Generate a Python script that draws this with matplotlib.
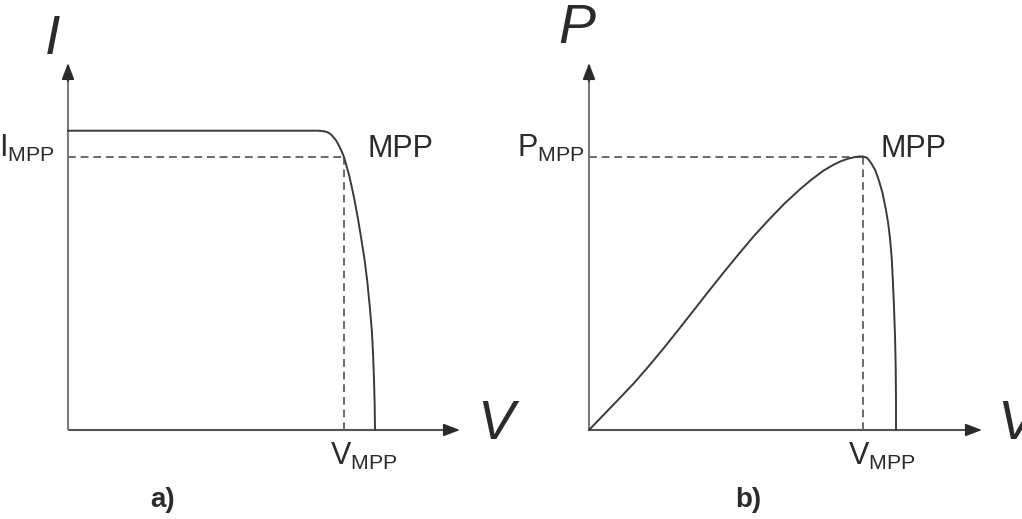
import matplotlib.pyplot as plt

plt.rcParams['font.family'] = ['Liberation Sans', 'DejaVu Sans']
plt.rcParams['mathtext.fontset'] = 'custom'
plt.rcParams['mathtext.rm'] = 'Liberation Sans'
plt.rcParams['mathtext.it'] = 'Liberation Sans:italic'

# I-V curve, V in % of Voc, I in % of Isc
iv_v = [0.0, 81.4, 82.7, 83.9, 84.9, 85.7, 86.5, 87.2, 87.9, 88.6, 89.2, 89.9,
        90.7, 91.6, 92.4, 93.2, 94.4, 95.5, 96.6, 97.5, 98.3, 99.0, 99.4,
        99.7, 99.9, 100.0]
iv_i = [100.0, 100.0, 99.9, 99.7, 99.3, 98.7, 97.8, 96.9, 95.7, 94.3, 93.0,
        91.2, 88.3, 85.0, 81.3, 77.5, 70.9, 64.1, 56.9, 49.5, 41.2, 32.8,
        24.5, 16.1, 8.1, 0.0]
v_mpp_a, i_mpp = 89.9, 91.2

# P-V curve, V in % of Voc, P in % of Pmpp
pv_v = [0.0, 4.9, 9.8, 14.7, 19.5, 24.4, 29.3, 34.2, 39.1, 44.0, 48.9, 53.7,
        58.6, 63.5, 68.4, 72.3, 76.2, 79.5, 82.1, 84.4, 86.3, 87.9, 89.3,
        90.6, 91.9, 93.2, 94.5, 95.6, 96.6, 97.4, 98.0, 98.6, 99.0, 99.4,
        99.7, 99.9, 100.0, 100.0]
pv_p = [0.0, 5.7, 11.4, 17.2, 23.4, 30.0, 36.9, 43.9, 50.9, 57.8, 64.5, 70.9,
        76.9, 82.6, 87.7, 91.4, 94.7, 96.9, 98.3, 99.2, 99.7, 100.0, 100.0,
        99.5, 97.6, 95.1, 91.0, 86.7, 81.2, 76.0, 70.5, 63.0, 54.0, 43.5,
        33.5, 23.0, 11.0, 0.0]
v_mpp_b, p_mpp = 89.3, 100.0

curve_c = '#3a3a3a'
dash_c = '#6a6a6a'
axis_c = '#7a7a7a'
head_c = '#2a2a2a'
text_c = '#2b2b2b'

W, H = 1022, 519
fig = plt.figure(figsize=(W / 100, H / 100), dpi=100)
fig.patch.set_facecolor('white')


def make_axes(x0, y0, xmax_px, ytop_px, xscale, yscale):
    ax = fig.add_axes([x0 / W, (H - y0) / H, (xmax_px - x0) / W, (y0 - ytop_px) / H])
    ax.set_xlim(0, (xmax_px - x0) / xscale)
    ax.set_ylim(0, (y0 - ytop_px) / yscale)
    ax.axis('off')
    return ax


def draw_arrows(ax):
    xmax = ax.get_xlim()[1]
    ymax = ax.get_ylim()[1]
    ax.plot([0, xmax * 0.97], [0, 0], color='#555555', lw=1.5, clip_on=False,
            solid_capstyle='butt')
    ax.plot([0, 0], [0, ymax * 0.97], color=axis_c, lw=1.5, clip_on=False,
            solid_capstyle='butt')
    style = '-|>,head_length=1.0,head_width=0.38'
    ax.annotate('', xy=(xmax, 0), xytext=(xmax * 0.96, 0),
                arrowprops=dict(arrowstyle=style, color=head_c, lw=1.2,
                                shrinkA=0, shrinkB=0))
    ax.annotate('', xy=(0, ymax), xytext=(0, ymax * 0.95),
                arrowprops=dict(arrowstyle=style, color=head_c, lw=1.2,
                                shrinkA=0, shrinkB=0))


# a) current-voltage characteristic
ax1 = make_axes(68, 430, 460, 63, 3.07, 2.993)
draw_arrows(ax1)
ax1.plot([0, v_mpp_a], [i_mpp, i_mpp], color=dash_c, lw=1.4, dashes=(4, 2.5))
ax1.plot([v_mpp_a, v_mpp_a], [0, i_mpp], color=dash_c, lw=1.4, dashes=(4, 2.5))
ax1.plot(iv_v, iv_i, color=curve_c, lw=1.4, clip_on=False)
ax1.text(-5.2, 130.3, 'I', fontsize=40, style='italic', color=text_c,
         ha='center', va='center')
ax1.text(133.2, 1.7, 'V', fontsize=40, style='italic', color=text_c,
         ha='left', va='center')
ax1.text(v_mpp_a + 7.5, i_mpp, 'MPP', fontsize=22, color=text_c,
         ha='left', va='baseline')
ax1.text(-4.2, i_mpp, r'$\mathregular{I_{MPP}}$', fontsize=22, color=text_c,
         ha='right', va='baseline')
ax1.text(v_mpp_a - 4.6, -11.7, r'$\mathregular{V_{MPP}}$', fontsize=22,
         color=text_c, ha='left', va='baseline')
ax1.text(30.9, -23.4, 'a)', fontsize=20, fontweight='bold', color=text_c,
         ha='center', va='center')

# b) power-voltage characteristic
ax2 = make_axes(589, 430, 982, 63, 3.07, 2.735)
draw_arrows(ax2)
ax2.plot([0, v_mpp_b], [p_mpp, p_mpp], color=dash_c, lw=1.4, dashes=(4, 2.5))
ax2.plot([v_mpp_b, v_mpp_b], [0, p_mpp], color=dash_c, lw=1.4, dashes=(4, 2.5))
ax2.plot(pv_v, pv_p, color=curve_c, lw=1.4, clip_on=False)
ax2.text(-3.9, 146.6, 'P', fontsize=40, style='italic', color=text_c,
         ha='center', va='center')
ax2.text(132.9, 1.8, 'V', fontsize=40, style='italic', color=text_c,
         ha='left', va='center')
ax2.text(v_mpp_b + 5.5, p_mpp, 'MPP', fontsize=22, color=text_c,
         ha='left', va='baseline')
ax2.text(-1.4, p_mpp, r'$\mathregular{P_{MPP}}$', fontsize=22, color=text_c,
         ha='right', va='baseline')
ax2.text(v_mpp_b - 4.9, -12.8, r'$\mathregular{V_{MPP}}$', fontsize=22,
         color=text_c, ha='left', va='baseline')
ax2.text(51.8, -25.6, 'b)', fontsize=20, fontweight='bold', color=text_c,
         ha='center', va='center')

fig.savefig('out.png', dpi=100, facecolor='white')
